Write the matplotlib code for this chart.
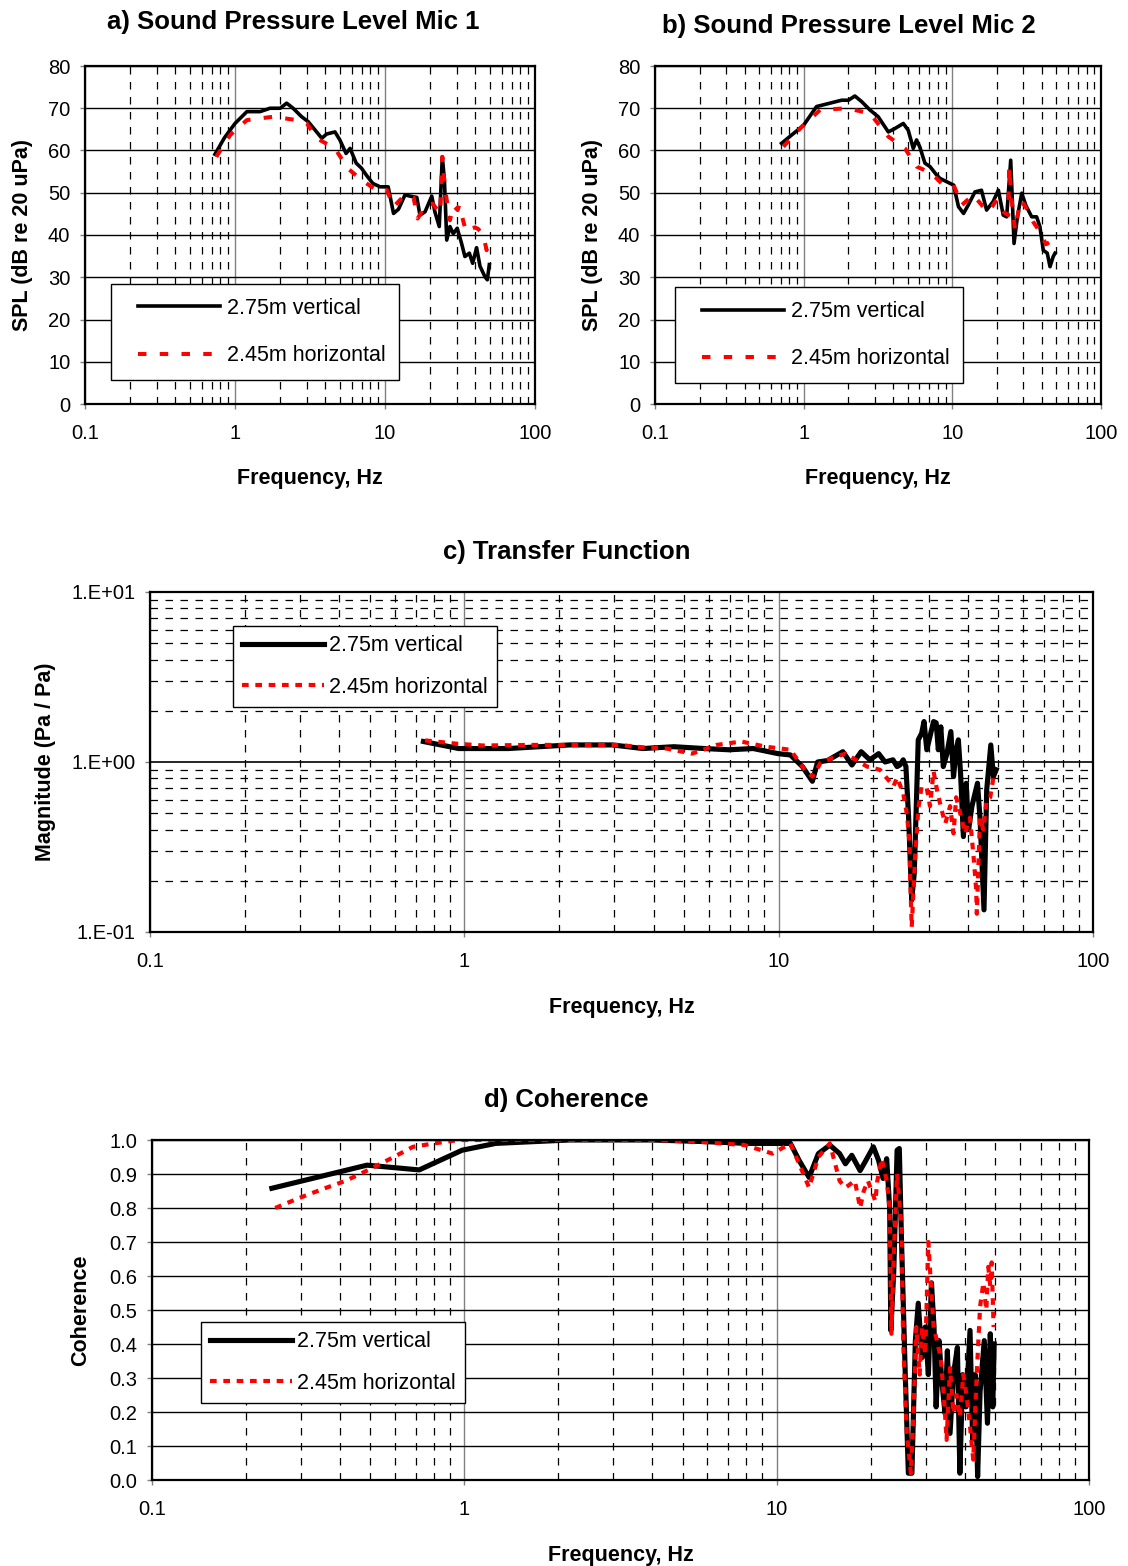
import matplotlib
matplotlib.use("Agg")
import numpy as np
import matplotlib.pyplot as plt
from matplotlib.ticker import LogLocator, FixedLocator, NullFormatter, FuncFormatter, MultipleLocator
from matplotlib.legend_handler import HandlerLine2D

plt.rcParams['font.family'] = ['Liberation Sans', 'DejaVu Sans']

# ---------------- data ----------------
# a) SPL Mic 1
a_vert_f = [0.735, 0.85, 1.0, 1.2, 1.47, 1.71, 2.0, 2.21, 2.44, 2.78, 3.08, 3.5, 3.79, 4.08, 4.64, 5.0, 5.5,
            5.85, 6.43, 6.98, 7.5, 8.3, 9.27, 10.5, 11.4, 12.3, 13.6, 14.7, 16.3, 17.1, 18.5, 20.5, 21.5, 23.0,
            24.1, 24.9, 25.8, 27.1, 28.5, 30.3, 32.4, 34.1, 36.5, 38.4, 40.8, 43.0, 46.4, 48.1, 49.6]
a_vert_v = [59.1, 63.0, 66.4, 69.2, 69.2, 70.0, 70.0, 71.2, 70.0, 68.0, 66.8, 64.4, 62.9, 63.9, 64.4, 62.5, 59.3,
            60.5, 57.0, 55.8, 54.2, 52.2, 51.4, 51.4, 45.1, 46.1, 49.5, 49.2, 48.9, 44.7, 45.5, 49.2, 45.5, 42.0,
            58.5, 53.0, 38.8, 42.0, 40.3, 41.6, 38.0, 34.9, 35.7, 33.3, 37.0, 32.6, 30.1, 29.4, 33.0]
a_horz_f = [0.75, 0.93, 1.2, 1.8, 2.58, 3.0, 3.5, 4.64, 5.64, 6.98, 8.8, 10.3, 11.4, 13.6, 15.5, 16.5, 19.0,
            20.8, 23.3, 23.6, 24.1, 25.1, 27.1, 28.5, 30.5, 31.2, 34.7, 36.9, 39.8, 41.9, 44.1, 45.7, 47.6, 48.5]
a_horz_v = [58.5, 63.7, 67.2, 68.0, 67.2, 66.5, 62.9, 60.5, 55.8, 53.0, 50.6, 50.6, 46.7, 49.5, 48.9, 43.9, 47.4,
            47.4, 45.1, 49.2, 58.5, 51.0, 43.5, 47.0, 45.9, 47.0, 40.8, 41.4, 41.8, 41.4, 40.4, 39.2, 36.4, 38.0]

# b) SPL Mic 2
b_vert_f = [0.71, 1.0, 1.22, 1.5, 1.8, 2.0, 2.21, 2.45, 2.79, 3.17, 3.71, 4.11, 4.68, 5.05, 5.46, 5.75, 6.05,
            6.54, 7.07, 7.84, 8.26, 10.2, 11.0, 11.9, 12.8, 14.2, 15.7, 17.0, 18.8, 20.4, 22.0, 23.2, 24.7, 26.0,
            27.4, 29.3, 31.3, 34.2, 36.9, 38.8, 40.9, 43.5, 45.4, 47.7, 49.1]
b_vert_v = [61.7, 66.0, 70.4, 71.2, 71.9, 71.9, 72.9, 71.6, 69.6, 68.0, 64.4, 65.2, 66.4, 64.8, 60.5, 62.5, 60.8,
            57.0, 56.2, 54.2, 53.4, 51.8, 46.7, 45.1, 47.1, 50.2, 50.6, 45.9, 47.9, 50.6, 44.7, 44.3, 57.7, 38.0,
            44.3, 49.9, 46.9, 44.3, 44.3, 42.0, 36.4, 35.7, 32.5, 34.9, 35.7]
b_horz_f = [0.73, 0.97, 1.29, 1.95, 2.79, 3.71, 4.8, 5.75, 7.25, 8.7, 10.2, 11.6, 13.8, 16.1, 17.5, 19.9, 22.0,
            23.8, 24.1, 25.0, 26.4, 28.8, 31.6, 35.0, 38.8, 42.6, 46.5, 49.8]
b_horz_v = [60.9, 65.6, 69.6, 70.0, 68.8, 63.3, 60.5, 56.2, 54.6, 51.8, 51.8, 47.1, 49.5, 46.7, 45.5, 48.3, 45.5,
            44.7, 56.2, 48.7, 41.2, 48.3, 46.3, 43.1, 40.8, 37.8, 38.6, 36.4]

# c) Transfer function
c_vert_f = [0.741, 0.96, 1.38, 2.16, 2.96, 3.7, 4.64, 5.8, 6.95, 8.3, 9.95, 10.9, 11.9, 12.8, 13.3, 14.3, 16.0,
            17.1, 18.3, 19.5, 20.8, 21.8, 23.1, 23.8, 24.3, 24.9, 25.4, 25.9, 26.5, 27.0, 27.5, 27.8, 28.5, 29.0,
            29.6, 31.1, 31.7, 32.2, 32.8, 33.4, 34.3, 35.3, 36.0, 36.7, 37.3, 37.9, 38.7, 39.5, 40.2, 41.2, 42.9,
            43.7, 45.0, 45.9, 47.3, 48.2, 49.2]
c_vert_v = [1.32, 1.2, 1.2, 1.26, 1.26, 1.2, 1.23, 1.2, 1.18, 1.2, 1.12, 1.1, 0.94, 0.77, 1.0, 1.02, 1.15,
            0.96, 1.15, 1.03, 1.12, 1.0, 1.03, 0.94, 0.96, 1.03, 0.94, 0.477, 0.154, 0.222, 0.685, 1.35, 1.475, 1.73,
            1.18, 1.73, 1.7, 1.18, 1.61, 0.94, 1.12, 1.51, 0.82, 1.18, 1.35, 0.86, 0.364, 0.75, 0.4, 0.55, 0.75,
            0.47, 0.135, 0.685, 1.26, 0.82, 0.9]
c_horz_f = [0.75, 0.95, 1.15, 1.6, 2.16, 3.1, 3.7, 4.4, 5.3, 6.35, 7.6, 9.1, 10.9, 12.0, 12.8, 13.6, 14.9, 16.3,
            19.1, 21.0, 23.2, 23.8, 24.9, 25.6, 26.1, 26.2, 26.5, 27.2, 27.5, 27.8, 28.5, 29.6, 30.3, 31.1, 31.9,
            33.0, 33.9, 35.1, 36.0, 36.7, 37.8, 39.2, 40.6, 41.7, 42.5, 42.7, 43.7, 44.8, 45.9, 47.1, 48.2, 48.7]
c_horz_v = [1.34, 1.28, 1.25, 1.26, 1.26, 1.26, 1.22, 1.2, 1.12, 1.26, 1.32, 1.23, 1.18, 0.92, 0.82, 0.99, 1.06,
            1.12, 0.94, 0.9, 0.72, 0.81, 0.655, 0.49, 0.33, 0.21, 0.107, 0.29, 0.38, 0.53, 0.72, 0.7, 0.55, 0.88,
            0.685, 0.52, 0.435, 0.55, 0.38, 0.62, 0.5, 0.38, 0.47, 0.277, 0.177, 0.128, 0.47, 0.4, 0.6, 0.62, 0.81,
            0.83]

# d) Coherence
d_vert_f = [0.242, 0.488, 0.717, 0.984, 1.26, 1.65, 2.17, 4.0, 6.0, 8.0, 10.0, 11.07, 11.8, 12.7, 13.6, 14.8,
            15.9, 16.6, 17.4, 18.5, 19.2, 20.4, 21.2, 21.9, 22.5, 23.0, 23.2, 23.7, 24.3, 24.7, 25.1, 25.8, 26.4,
            27.1, 27.8, 28.4, 29.2, 29.9, 30.6, 31.3, 31.9, 32.4, 33.1, 33.8, 34.6, 35.2, 35.9, 36.8, 37.9, 38.6,
            39.4, 40.4, 41.6, 42.4, 43.2, 44.0, 44.8, 46.2, 47.3, 48.3, 49.2, 49.7]
d_vert_v = [0.858, 0.926, 0.912, 0.97, 0.99, 0.995, 1.0, 1.0, 0.995, 0.99, 0.99, 0.99, 0.94, 0.89, 0.96, 0.985,
            0.96, 0.93, 0.955, 0.91, 0.936, 0.98, 0.94, 0.887, 0.945, 0.80, 0.44, 0.61, 0.97, 0.975, 0.706, 0.314,
            0.02, 0.02, 0.41, 0.52, 0.36, 0.45, 0.31, 0.58, 0.45, 0.215, 0.41, 0.29, 0.196, 0.38, 0.137, 0.31, 0.39,
            0.02, 0.31, 0.215, 0.44, 0.12, 0.31, 0.01, 0.26, 0.41, 0.167, 0.43, 0.215, 0.40]
d_horz_f = [0.248, 0.297, 0.355, 0.417, 0.488, 0.58, 0.685, 0.8, 0.96, 2.0, 4.0, 5.6, 7.9, 9.7, 11.07, 12.7,
            13.6, 14.8, 15.9, 16.6, 17.8, 18.5, 19.0, 19.6, 20.7, 21.0, 21.7, 22.5, 23.0, 23.3, 23.7, 24.3, 25.1,
            25.4, 26.1, 26.9, 27.4, 28.0, 28.7, 29.2, 29.9, 30.6, 31.2, 31.8, 32.6, 33.5, 34.3, 35.0, 35.9, 36.8,
            37.7, 38.6, 39.6, 40.6, 41.6, 42.6, 43.7, 44.8, 45.9, 46.9, 47.6, 48.3, 48.8, 49.5]
d_horz_v = [0.80, 0.83, 0.857, 0.88, 0.91, 0.945, 0.98, 0.99, 1.0, 1.0, 1.0, 0.995, 0.985, 0.96, 0.99, 0.86,
            0.95, 0.99, 0.88, 0.86, 0.88, 0.80, 0.85, 0.88, 0.82, 0.88, 0.945, 0.88, 0.80, 0.43, 0.657, 0.90, 0.745,
            0.41, 0.137, 0.02, 0.186, 0.45, 0.31, 0.45, 0.37, 0.70, 0.57, 0.45, 0.41, 0.36, 0.25, 0.118, 0.33,
            0.196, 0.25, 0.186, 0.31, 0.245, 0.157, 0.06, 0.31, 0.51, 0.58, 0.5, 0.627, 0.57, 0.64, 0.45]

label_v = "2.75m vertical"
label_h = "2.45m horizontal"

# ---------------- figure ----------------
W, H = 1128, 1566
fig = plt.figure(figsize=(W / 100, H / 100), dpi=100)


def px_axes(l, t, r, b):
    return fig.add_axes([l / W, 1 - b / H, (r - l) / W, (b - t) / H])


TICK = 14.5
LAB = 15.5
TIT = 18.5
LEGFS = 15.5
DASH = (0, (6, 6))


class LeadHandler(HandlerLine2D):
    def __init__(self, lead=0.0, **kw):
        super().__init__(**kw)
        self.lead = lead

    def get_xdata(self, legend, xdescent, ydescent, width, height, fontsize):
        xdata, xm = super().get_xdata(legend, xdescent, ydescent, width, height, fontsize)
        xdata = np.array(xdata, dtype=float)
        xdata[0] = xdata[0] + self.lead * fontsize
        return xdata, xm


def style_x(ax):
    ax.set_xscale('log')
    ax.set_xlim(0.1, 100)
    ax.xaxis.set_major_locator(FixedLocator([0.1, 1, 10, 100]))
    ax.xaxis.set_major_formatter(FuncFormatter(
        lambda v, p: {0.1: '0.1', 1.0: '1', 10.0: '10', 100.0: '100'}.get(round(v, 1), '')))
    ax.xaxis.set_minor_locator(LogLocator(base=10, subs=range(2, 10), numticks=20))
    ax.xaxis.set_minor_formatter(NullFormatter())
    ax.tick_params(axis='x', which='minor', length=0)
    ax.tick_params(axis='both', which='major', length=3.6, width=1, color='#808080',
                   labelsize=TICK, direction='out')
    ax.tick_params(axis='x', which='major', pad=11)
    ax.tick_params(axis='y', which='major', pad=7)
    ax.grid(True, axis='x', which='major', color='#808080', lw=1.0, ls='-')
    ax.grid(True, axis='x', which='minor', color='black', lw=0.9, ls=DASH)
    for s in ax.spines.values():
        s.set_linewidth(1.6)
        s.set_color('black')
    ax.set_axisbelow(True)


def add_legend(ax, anchor, hl, lead, lspace, bpad, tpad):
    hmap = {h: LeadHandler(lead=lead) for h in ax.get_lines()}
    leg = ax.legend(loc='upper left', bbox_to_anchor=anchor, fontsize=LEGFS, handlelength=hl,
                    handletextpad=tpad, labelspacing=lspace, borderpad=bpad, fancybox=False,
                    framealpha=1, edgecolor='black', borderaxespad=0, handler_map=hmap)
    leg.get_frame().set_linewidth(1.0)
    return leg


def labels(ax, ylab, ylab_x):
    ax.set_xlabel('Frequency, Hz', fontsize=LAB, fontweight='bold')
    ax.xaxis.set_label_coords(0.5, -0.19)
    ax.set_ylabel(ylab, fontsize=LAB, fontweight='bold')
    ax.yaxis.set_label_coords(ylab_x, 0.5)


# ---- a & b ----
for (l, r, ttl, tx, ty, fv, vv, fh, vh, anc, ylx) in [
        (85, 535, 'a) Sound Pressure Level Mic 1', 293, 22, a_vert_f, a_vert_v, a_horz_f, a_horz_v,
         (0.058, 0.355), -0.115),
        (655, 1101, 'b) Sound Pressure Level Mic 2', 849, 26, b_vert_f, b_vert_v, b_horz_f, b_horz_v,
         (0.045, 0.346), -0.116)]:
    ax = px_axes(l, 66, r, 404)
    style_x(ax)
    ax.set_ylim(0, 80)
    ax.yaxis.set_major_locator(MultipleLocator(10))
    ax.grid(True, axis='y', which='major', color='black', lw=1.0, ls='-')
    ax.plot(fv, vv, color='black', lw=2.6, label=label_v)
    ax.plot(fh, vh, color='red', lw=2.9, ls=(0, (2.1, 3.3)), label=label_h)
    labels(ax, 'SPL (dB re 20 uPa)', ylx)
    fig.text(tx / W, 1 - ty / H, ttl, fontsize=TIT, fontweight='bold', ha='center', va='center')
    add_legend(ax, anc, 4.4, 0.6, 1.22, 0.65, 0.32)

# ---- c ----
ax = px_axes(150, 592, 1093, 932)
style_x(ax)
ax.set_yscale('log')
ax.set_ylim(0.1, 10)
ax.yaxis.set_major_locator(FixedLocator([0.1, 1, 10]))
ax.yaxis.set_major_formatter(FuncFormatter(
    lambda v, p: {0.1: '1.E-01', 1.0: '1.E+00', 10.0: '1.E+01'}.get(round(v, 1), '')))
ax.yaxis.set_minor_locator(LogLocator(base=10, subs=range(2, 10), numticks=20))
ax.yaxis.set_minor_formatter(NullFormatter())
ax.tick_params(axis='y', which='minor', length=0)
ax.grid(True, axis='y', which='major', color='black', lw=1.2, ls='-')
ax.grid(True, axis='y', which='minor', color='black', lw=0.9, ls=DASH)
ax.plot(c_vert_f, c_vert_v, color='black', lw=3.7, label=label_v)
ax.plot(c_horz_f, c_horz_v, color='red', lw=3.0, ls=(0, (1.6, 1.6)), label=label_h)
labels(ax, 'Magnitude (Pa / Pa)', -0.100)
fig.text(567 / W, 1 - 552 / H, 'c) Transfer Function', fontsize=TIT, fontweight='bold', ha='center', va='center')
add_legend(ax, (0.088, 0.9), 3.8, 0.0, 0.95, 0.43, 0.25)

# ---- d ----
ax = px_axes(152, 1140, 1089, 1480)
style_x(ax)
ax.set_ylim(0, 1.0)
ax.yaxis.set_major_locator(MultipleLocator(0.1))
ax.yaxis.set_major_formatter(FuncFormatter(lambda v, p: f'{v:.1f}'))
ax.grid(True, axis='y', which='major', color='black', lw=1.0, ls='-')
ax.plot(d_vert_f, d_vert_v, color='black', lw=3.7, label=label_v)
ax.plot(d_horz_f, d_horz_v, color='red', lw=3.0, ls=(0, (1.6, 1.6)), label=label_h)
labels(ax, 'Coherence', -0.065)
fig.text(566 / W, 1 - 1100 / H, 'd) Coherence', fontsize=TIT, fontweight='bold', ha='center', va='center')
add_legend(ax, (0.052, 0.465), 3.8, 0.0, 0.95, 0.43, 0.25)

fig.savefig('out.png', dpi=100)
